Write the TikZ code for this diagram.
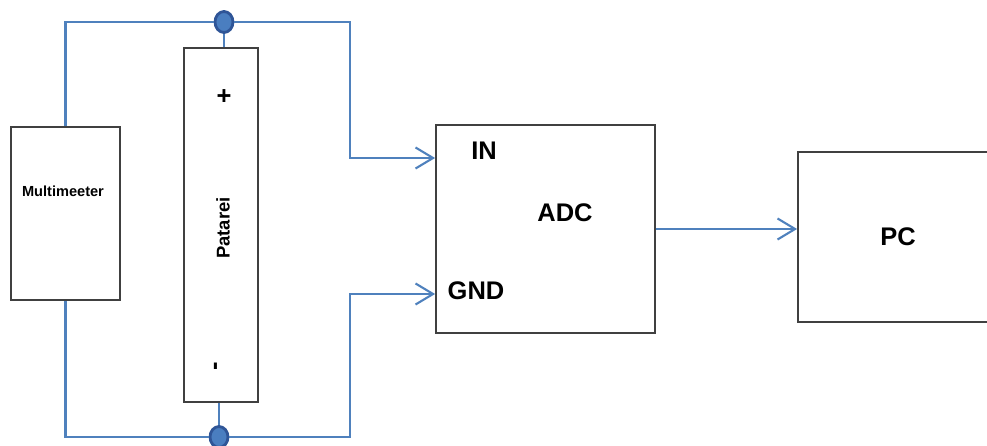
\documentclass[tikz,border=0pt]{standalone}
\usepackage{fontspec}
\setmainfont{Liberation Sans}
\usetikzlibrary{arrows.meta,shapes.geometric,calc}
\definecolor{wireblue}{HTML}{4F81BD}
\definecolor{dotblue}{HTML}{4A7EC0}
\definecolor{dotdark}{HTML}{2F5597}

\begin{document}
\begin{tikzpicture}[x=0.02cm, y=-0.02cm, >={Straight Barb[length=10pt,width=12pt]},
  box/.style={draw=black!75, line width=1pt, fill=white, inner sep=0pt},
  wire/.style={draw=wireblue, line width=1.2pt},
  dot/.style={ellipse, fill=dotblue, draw=dotdark, line width=1.6pt, minimum width=0.36cm, minimum height=0.42cm, inner sep=0pt},
  lbl/.style={font=\bfseries\fontsize{14.5}{17}\selectfont},
  small/.style={font=\bfseries\fontsize{8.3}{10}\selectfont}]
  \useasboundingbox (0,0) rectangle (987,446);
  % blocks
  \node[box, minimum width=2.18cm, minimum height=3.46cm] (meter) at (65.5,213.5) {};
  \node[small] (meterlbl) at (63,191) {Multimeeter};
  \node[box, minimum width=1.48cm, minimum height=7.08cm] (bat) at (221,225) {};
  \node[lbl] (plus) at (224,97) {+};
  \node[small, rotate=90] (batlbl) at (223,228) {\fontsize{10.5}{12}\selectfont Patarei};
  \node[lbl, rotate=90] (minus) at (218,366) {-};
  \node[box, minimum width=4.38cm, minimum height=4.16cm] (adc) at (545.5,229) {};
  \node[lbl] (inlbl) at (484,151) {IN};
  \node[lbl] (adclbl) at (565,213) {ADC};
  \node[lbl] (gndlbl) at (476,291) {GND};
  \node[box, lbl, minimum width=4cm, minimum height=3.4cm] (pc) at (898,237) {PC};
  % junctions
  \node[dot] (top) at (224,22) {};
  \node[dot] (bot) at (219,437) {};
  \coordinate (inpin) at (adc.west |- 0,158);
  \coordinate (gndpin) at (adc.west |- 0,294);
  % wires
  \draw[wire] (top) -| (meter.north);
  \draw[wire] (bot) -| (meter.south);
  \draw[wire] (top) -- (top |- bat.north);
  \draw[wire] (bot) -- (bot |- bat.south);
  \draw[wire,->] (top) -| (350,158) -- (inpin);
  \draw[wire,->] (bot) -| (350,294) -- (gndpin);
  \draw[wire,->] (adc.east) -- (adc.east -| pc.west);
\end{tikzpicture}
\end{document}
